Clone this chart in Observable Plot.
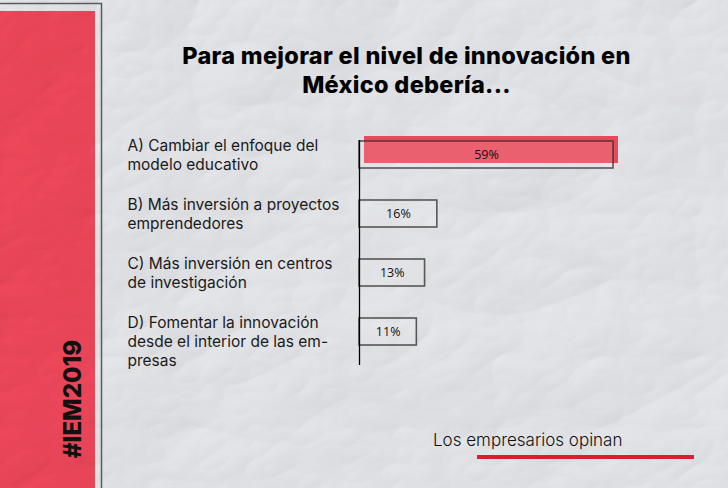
<!DOCTYPE html>
<html>
<head>
<meta charset="utf-8">
<script src="https://cdn.jsdelivr.net/npm/d3@7"></script>
<script src="https://cdn.jsdelivr.net/npm/@observablehq/plot@0.6"></script>
<style>
  html, body { margin: 0; padding: 0; background: #dedee0; }
  #wrap { position: relative; width: 728px; height: 488px; overflow: hidden; }
  #wrap > svg { position: absolute; left: 0; top: 0; }
</style>
</head>
<body>
<div id="wrap"></div>
<script>
// ---- data ----
const labels = [
  "A) Cambiar el enfoque del\nmodelo educativo",
  "B) Más inversión a proyectos\nemprendedores",
  "C) Más inversión en centros\nde investigación",
  "D) Fomentar la innovación\ndesde el interior de las em-\npresas"
];
const values = [59, 16, 13, 11];
const titleLines = ["Para mejorar el nivel de innovación en", "México debería..."];
const hashtag = "#IEM2019";
const caption = "Los empresarios opinan";

const data = labels.map((label, i) => ({label, value: values[i], top: i === 0}));

const W = 728, H = 488;
const wrap = document.getElementById("wrap");

// ---- decorative background (paper, red band, titles) ----
const ns = "http://www.w3.org/2000/svg";
const deco = d3.create("svg").attr("width", W).attr("height", H).attr("xmlns", ns);
const defs = deco.append("defs");
const f = defs.append("filter").attr("id", "paper").attr("x", 0).attr("y", 0).attr("width", "100%").attr("height", "100%");
f.append("feTurbulence").attr("type", "turbulence").attr("baseFrequency", "0.005 0.007").attr("numOctaves", 4).attr("seed", 11).attr("result", "noise");
f.append("feDiffuseLighting").attr("in", "noise").attr("lighting-color", "#eeeff3").attr("surfaceScale", 2.8).attr("result", "light")
  .append("feDistantLight").attr("azimuth", 225).attr("elevation", 60);
const f2 = defs.append("filter").attr("id", "paperRed").attr("x", 0).attr("y", 0).attr("width", "100%").attr("height", "100%");
f2.append("feTurbulence").attr("type", "turbulence").attr("baseFrequency", "0.005 0.007").attr("numOctaves", 4).attr("seed", 11).attr("result", "noise");
f2.append("feDiffuseLighting").attr("in", "noise").attr("lighting-color", "#ffffff").attr("surfaceScale", 2.8).attr("result", "light")
  .append("feDistantLight").attr("azimuth", 225).attr("elevation", 60);
f2.append("feFlood").attr("flood-color", "#f74a5e").attr("result", "red");
f2.append("feBlend").attr("in", "red").attr("in2", "light").attr("mode", "multiply").attr("result", "mix");
f2.append("feComposite").attr("in", "mix").attr("in2", "SourceGraphic").attr("operator", "in");

deco.append("rect").attr("width", W).attr("height", H).attr("fill", "#ddd").attr("filter", "url(#paper)");
// red band + frame
deco.append("rect").attr("x", 0).attr("y", 11).attr("width", 95).attr("height", H - 11).attr("fill", "#ec4a5c").attr("filter", "url(#paperRed)");
deco.append("path").attr("d", `M0,3.5H101.5V${H}`).attr("fill", "none").attr("stroke", "#5a5a5c").attr("stroke-width", 1.5);
deco.append("text").attr("transform", "translate(81,399) rotate(-90)")
  .attr("text-anchor", "middle").attr("font-family", "Inter").attr("font-weight", 800)
  .attr("font-size", 24).attr("fill", "#111").text(hashtag);
// title
titleLines.forEach((t, i) => {
  deco.append("text").attr("x", 406.5).attr("y", 64 + i * 29).attr("text-anchor", "middle")
    .attr("font-family", "Inter").attr("font-weight", 800).attr("font-size", 23.5)
    .attr("letter-spacing", "0.3").attr("fill", "#000").text(t);
});
// caption
deco.append("text").attr("x", 433).attr("y", 446).attr("font-family", "Inter").attr("font-weight", 300)
  .attr("font-size", 17).attr("fill", "#111").text(caption);
deco.append("rect").attr("x", 477).attr("y", 455).attr("width", 217).attr("height", 4).attr("fill", "#dc1c32");
wrap.appendChild(deco.node());

// ---- chart ----
const chart = Plot.plot({
  width: W, height: H,
  marginLeft: 359, marginRight: 115, marginTop: 109, marginBottom: 111,
  x: {domain: [-3, 59], axis: null},
  y: {domain: labels, padding: 0.535, axis: null},
  style: {background: "transparent", overflow: "visible"},
  marks: [
    Plot.barX(data.filter(d => d.top), {x1: -3, x2: "value", y: "label", fill: "#e84a5b", dx: 5, dy: -5}),
    Plot.barX(data, {x1: -3, x2: "value", y: "label", fill: "white", fillOpacity: 0.12,
      stroke: "#333", strokeWidth: 1.6, strokeOpacity: 0.8}),
    Plot.ruleX([-3], {insetTop: 31, insetBottom: 12, stroke: "#000", strokeWidth: 1.3}),
    Plot.text(data, {x: -3, y: "label", text: "label", textAnchor: "start", lineAnchor: "top",
      dx: -232, dy: -17.5, fontSize: 15.5, lineHeight: 1.23, fill: "#1a1a1a", fontFamily: "Inter"}),
    Plot.text(data, {x: d => (d.value - 3) / 2, y: "label", text: d => d.value + "%",
      fontSize: 12.5, fontFamily: "Open Sans", fill: "#111"})
  ]
});
wrap.appendChild(chart);
</script>
</body>
</html>
